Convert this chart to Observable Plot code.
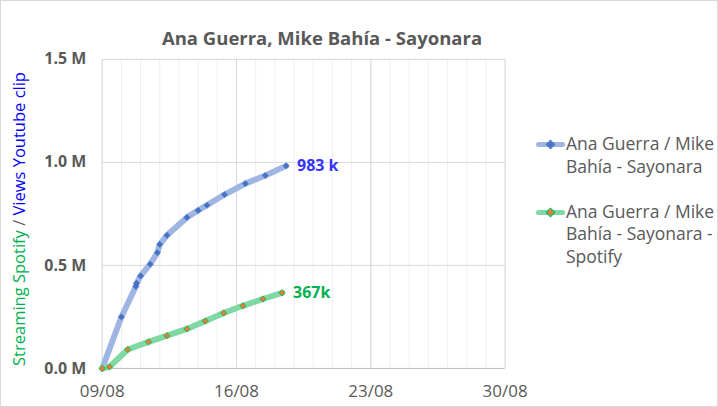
<!DOCTYPE html>
<html>
<head>
<meta charset="utf-8">
<script src="https://cdn.jsdelivr.net/npm/d3@7"></script>
<script src="https://cdn.jsdelivr.net/npm/@observablehq/plot@0.6"></script>
<style>
  html, body { margin: 0; padding: 0; background: #fff; }
  #wrap { position: relative; width: 718px; height: 407px; box-sizing: border-box; border: 1px solid #d9d9d9; overflow: hidden; font-family: "Open Sans", sans-serif; }
  #wrap svg { position: absolute; left: -1px; top: -1px; }
  .title { position: absolute; left: 0; width: 642px; top: 23px; text-align: center; font-weight: bold; font-size: 18.5px; color: #595959; line-height: 28px; }
  .ytitle { position: absolute; left: 18px; top: 218px; transform: translate(-50%, -50%) rotate(-90deg); white-space: nowrap; font-size: 16.5px; line-height: 18px; }
  .legend { position: absolute; left: 535px; font-size: 17.5px; color: #595959; line-height: 22.7px; }
  .legend .item { position: absolute; left: 0; width: 182px; }
  .legend .sw { position: absolute; left: 0; width: 29px; height: 5px; border-radius: 3px; }
  .legend .mk { position: absolute; width: 5px; height: 5px; transform: rotate(45deg); }
  .legend .txt { position: absolute; left: 30px; top: 0; white-space: nowrap; }
</style>
</head>
<body>
<div id="wrap"></div>
<script>
// ---- data ----
const seriesNames = ["Ana Guerra / Mike Bahía - Sayonara", "Ana Guerra / Mike Bahía - Sayonara - Spotify"];
const youtubeDates = ["2018-08-09T00:00Z","2018-08-10T00:00Z","2018-08-10T18:00Z","2018-08-10T19:00Z","2018-08-11T00:00Z","2018-08-11T12:00Z","2018-08-11T21:00Z","2018-08-12T00:00Z","2018-08-12T09:00Z","2018-08-13T10:00Z","2018-08-14T00:00Z","2018-08-14T11:00Z","2018-08-15T09:00Z","2018-08-16T11:00Z","2018-08-17T12:00Z","2018-08-18T14:00Z"];
const youtubeViews = [0, 250000, 398000, 414000, 449000, 506000, 562000, 602000, 646000, 733000, 767000, 792000, 844000, 897000, 936000, 983000];
const spotifyDates = ["2018-08-09T00:00Z","2018-08-09T09:00Z","2018-08-10T08:00Z","2018-08-11T10:00Z","2018-08-12T09:00Z","2018-08-13T10:00Z","2018-08-14T09:00Z","2018-08-15T08:00Z","2018-08-16T08:00Z","2018-08-17T09:00Z","2018-08-18T09:00Z"];
const spotifyStreams = [0, 8000, 92000, 129000, 159000, 192000, 230000, 269000, 304000, 337000, 367000];
const xTickLabels = ["2018-08-09","2018-08-16","2018-08-23","2018-08-30"];
const yTickValues = [0, 500000, 1000000, 1500000];
const endLabels = ["983 k", "367k"];
const chartTitle = "Ana Guerra, Mike Bahía - Sayonara";

// ---- build ----
const yt = youtubeDates.map((d, i) => ({date: new Date(d), value: youtubeViews[i]}));
const sp = spotifyDates.map((d, i) => ({date: new Date(d), value: spotifyStreams[i]}));
const xTicks = xTickLabels.map(d => new Date(d + "T00:00Z"));
const dayTicks = d3.utcDay.range(xTicks[0], d3.utcDay.offset(xTicks[xTicks.length - 1], 1));

const BLUE_LINE = "#9fb6e2", BLUE_MK = "#4472c4";
const GREEN_LINE = "#80d8a4", GREEN_MK = "#ed7d31", GREEN = "#00b050";

const chart = Plot.plot({
  width: 718, height: 407,
  marginLeft: 102, marginRight: 212, marginTop: 59, marginBottom: 38,
  style: {fontFamily: "Open Sans, sans-serif", background: "transparent", overflow: "visible"},
  x: {type: "utc", domain: [xTicks[0], xTicks[xTicks.length - 1]]},
  y: {domain: [0, 1500000]},
  marks: [
    Plot.ruleX(dayTicks, {stroke: "#efefef", strokeWidth: 1}),
    Plot.ruleX(xTicks, {stroke: "#d9d9d9", strokeWidth: 1}),
    Plot.ruleY(yTickValues, {stroke: "#d9d9d9", strokeWidth: 1}),
    Plot.ruleY([0], {stroke: "#bfbfbf"}),
    Plot.axisX({ticks: xTicks, tickFormat: d3.utcFormat("%d/%m"), tickSize: 0, tickPadding: 17, fontSize: 17, fill: "#595959", label: null}),
    Plot.axisY({ticks: yTickValues, tickFormat: d => (d / 1e6).toFixed(1) + " M", tickSize: 0, tickPadding: 16, fontSize: 16, fontWeight: "bold", fill: "#595959", label: null}),
    Plot.line(yt, {x: "date", y: "value", stroke: BLUE_LINE, strokeWidth: 6, strokeLinejoin: "round", strokeLinecap: "round"}),
    Plot.dot(yt, {x: "date", y: "value", symbol: "diamond2", r: 2.8, fill: BLUE_MK, stroke: BLUE_MK, strokeWidth: 0.5}),
    Plot.line(sp, {x: "date", y: "value", stroke: GREEN_LINE, strokeWidth: 6, strokeLinejoin: "round", strokeLinecap: "round"}),
    Plot.dot(sp, {x: "date", y: "value", symbol: "diamond2", r: 2.8, fill: GREEN_MK, stroke: GREEN, strokeWidth: 0.8}),
    Plot.text([yt[yt.length - 1]], {x: "date", y: "value", text: () => endLabels[0], dx: 11, textAnchor: "start", fontSize: 16, fontWeight: "bold", fill: "#3333ff"}),
    Plot.text([sp[sp.length - 1]], {x: "date", y: "value", text: () => endLabels[1], dx: 11, textAnchor: "start", fontSize: 16, fontWeight: "bold", fill: GREEN})
  ]
});

const wrap = document.getElementById("wrap");
wrap.appendChild(chart);

const t = document.createElement("div");
t.className = "title"; t.textContent = chartTitle;
wrap.appendChild(t);

const yl = document.createElement("div");
yl.className = "ytitle";
yl.innerHTML = '<span style="color:#00b050">Streaming Spotify</span><span style="color:#595959"> / </span><span style="color:#0000ff">Views Youtube clip</span>';
wrap.appendChild(yl);

const lg = document.createElement("div");
lg.className = "legend";
lg.style.top = "0px";
wrap.appendChild(lg);
const legendItems = [
  {lines: ["Ana Guerra / Mike", "Bahía - Sayonara"], top: 131, line: BLUE_LINE, mk: BLUE_MK, mkStroke: BLUE_MK},
  {lines: ["Ana Guerra / Mike", "Bahía - Sayonara -", "Spotify"], top: 198.5, line: GREEN_LINE, mk: GREEN_MK, mkStroke: GREEN}
];
legendItems.forEach((it, i) => {
  const d = document.createElement("div");
  d.className = "item"; d.style.top = it.top + "px";
  d.title = seriesNames[i];
  d.innerHTML = `<div class="sw" style="top:10px;background:${it.line}"></div>` +
    `<div class="mk" style="left:12px;top:10px;background:${it.mk};outline:0.6px solid ${it.mkStroke}"></div>` +
    `<div class="txt">${it.lines.join("<br>")}</div>`;
  lg.appendChild(d);
});
</script>
</body>
</html>
